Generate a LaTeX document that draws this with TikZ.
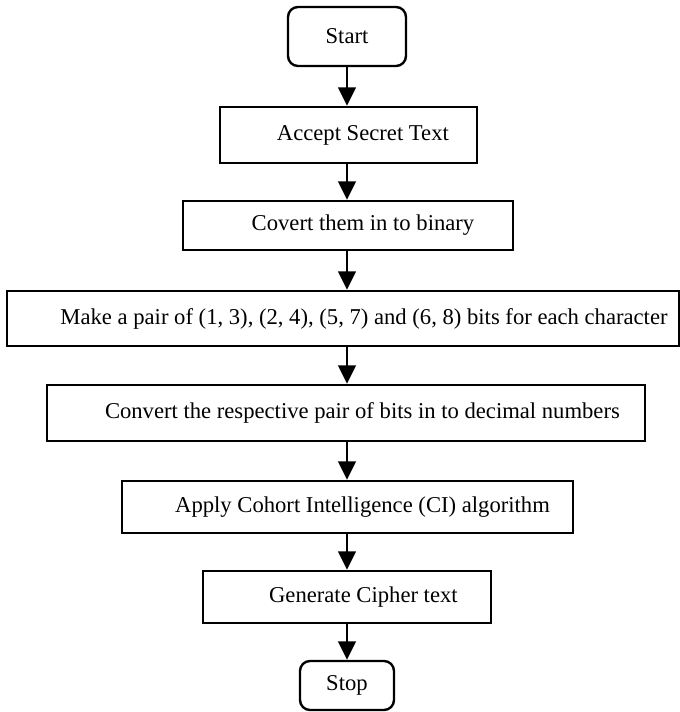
\documentclass[tikz,border=0pt]{standalone}
\usepackage{fontspec}
\setmainfont{Liberation Serif}
\usetikzlibrary{arrows.meta}
\usetikzlibrary{positioning}

\tikzset{
  stepbox/.style={draw=black, line width=1.7pt, rectangle, inner sep=0pt},
  endbox/.style={stepbox, rounded corners=0.25cm},
  flow/.style={line width=1.7pt, -{Triangle[width=0.44cm,length=0.46cm]}},
  every node/.style={font=\fontsize{16.1}{19}\selectfont}
}

\begin{document}
\begin{tikzpicture}
\useasboundingbox (0,0) rectangle (17,17.8);
\node[endbox,minimum width=2.95cm,minimum height=1.475cm] (start) at (8.675,16.8875) {Start};
\node[stepbox,minimum width=6.425cm,minimum height=1.4cm,label={[xshift=0.36cm]center:Accept Secret Text}] (accept) at (8.7125,14.425) {};
\node[stepbox,minimum width=8.25cm,minimum height=1.225cm,label={[xshift=0.375cm]center:Covert them in to binary}] (covert) at (8.7,12.1625) {};
\node[stepbox,minimum width=16.8cm,minimum height=1.375cm,label={[xshift=0.525cm]center:Make a pair of (1, 3), (2, 4), (5, 7) and (6, 8) bits for each character}] (pair) at (8.575,9.8375) {};
\node[stepbox,minimum width=14.95cm,minimum height=1.4cm,label={[xshift=0.41cm]center:Convert the respective pair of bits in to decimal numbers}] (decimal) at (8.65,7.475) {};
\node[stepbox,minimum width=11.275cm,minimum height=1.3cm,label={[xshift=0.375cm]center:Apply Cohort Intelligence (CI) algorithm}] (apply) at (8.6875,5.125) {};
\node[stepbox,minimum width=7.2cm,minimum height=1.3cm,label={[xshift=0.41cm]center:Generate Cipher text}] (cipher) at (8.675,2.875) {};
\node[endbox,minimum width=2.35cm,minimum height=1.225cm] (stop) at (8.675,0.6625) {Stop};

\draw[flow] (start.south) -- (start.south |- accept.north);
\draw[flow] (start.south |- accept.south) -- (start.south |- covert.north);
\draw[flow] (start.south |- covert.south) -- (start.south |- pair.north);
\draw[flow] (start.south |- pair.south) -- (start.south |- decimal.north);
\draw[flow] (start.south |- decimal.south) -- (start.south |- apply.north);
\draw[flow] (start.south |- apply.south) -- (start.south |- cipher.north);
\draw[flow] (start.south |- cipher.south) -- (stop.north);
\end{tikzpicture}
\end{document}
